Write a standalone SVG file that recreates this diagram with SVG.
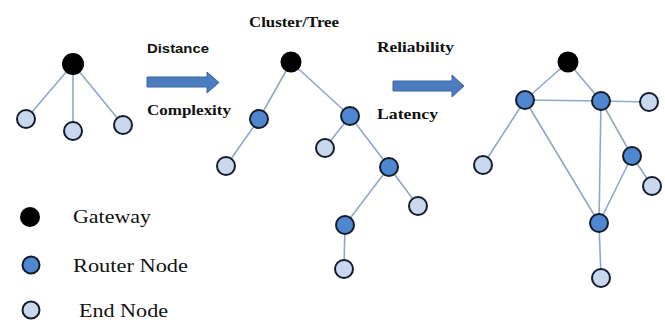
<svg xmlns="http://www.w3.org/2000/svg" width="665" height="323" viewBox="0 0 665 323">
  <style>
    .edge { stroke: #8fa8c8; stroke-width: 1.6; fill: none; }
    .gw { fill: #000; }
    .router { fill: #4f86d0; stroke: #141c2a; stroke-width: 2; }
    .end { fill: #c9d8ef; stroke: #141c2a; stroke-width: 2; }
    .arrow { fill: #4a7cbf; stroke: #3a66a0; stroke-width: 1; }
    .sans { font-family: "Liberation Sans", Arial, sans-serif; font-weight: bold; font-size: 13px; fill: #111; }
    .serifb { font-family: "Liberation Serif", "Times New Roman", serif; font-weight: bold; font-size: 14px; fill: #111; }
    .legend { font-family: "Liberation Serif", "Times New Roman", serif; font-size: 19px; fill: #111; }
  </style>

  <!-- connectors -->
  <g id="connectors">
    <!-- star -->
    <line class="edge" x1="73" y1="64" x2="26" y2="119"/>
    <line class="edge" x1="73" y1="64" x2="73" y2="131"/>
    <line class="edge" x1="73" y1="64" x2="123" y2="125"/>
    <!-- cluster tree -->
    <line class="edge" x1="291" y1="62" x2="259" y2="119"/>
    <line class="edge" x1="291" y1="62" x2="350" y2="116"/>
    <line class="edge" x1="259" y1="119" x2="226" y2="166"/>
    <line class="edge" x1="350" y1="116" x2="325" y2="148"/>
    <line class="edge" x1="350" y1="116" x2="389" y2="167"/>
    <line class="edge" x1="389" y1="167" x2="418" y2="206"/>
    <line class="edge" x1="389" y1="167" x2="345" y2="225"/>
    <line class="edge" x1="345" y1="225" x2="344" y2="269"/>
    <!-- mesh -->
    <line class="edge" x1="568" y1="62" x2="525" y2="100"/>
    <line class="edge" x1="568" y1="62" x2="601" y2="101"/>
    <line class="edge" x1="525" y1="100" x2="601" y2="101"/>
    <line class="edge" x1="601" y1="101" x2="649" y2="102"/>
    <line class="edge" x1="525" y1="100" x2="483" y2="165"/>
    <line class="edge" x1="525" y1="100" x2="599" y2="223"/>
    <line class="edge" x1="601" y1="101" x2="599" y2="223"/>
    <line class="edge" x1="601" y1="101" x2="632" y2="156"/>
    <line class="edge" x1="632" y1="156" x2="652" y2="186"/>
    <line class="edge" x1="632" y1="156" x2="599" y2="223"/>
    <line class="edge" x1="599" y1="223" x2="601" y2="278"/>
  </g>

  <!-- star topology -->
  <g id="star-gateway"><circle class="gw" cx="73" cy="64" r="11"/></g>
  <g id="star-end-1"><circle class="end" cx="26" cy="119" r="9"/></g>
  <g id="star-end-2"><circle class="end" cx="73" cy="131" r="9"/></g>
  <g id="star-end-3"><circle class="end" cx="123" cy="125" r="9"/></g>

  <!-- cluster tree topology -->
  <g id="tree-gateway"><circle class="gw" cx="291" cy="62" r="10.5"/></g>
  <g id="tree-router-1"><circle class="router" cx="259" cy="119" r="9"/></g>
  <g id="tree-end-1"><circle class="end" cx="226" cy="166" r="9"/></g>
  <g id="tree-router-2"><circle class="router" cx="350" cy="116" r="9"/></g>
  <g id="tree-end-2"><circle class="end" cx="325" cy="148" r="9"/></g>
  <g id="tree-router-3"><circle class="router" cx="389" cy="167" r="9"/></g>
  <g id="tree-end-3"><circle class="end" cx="418" cy="206" r="9"/></g>
  <g id="tree-router-4"><circle class="router" cx="345" cy="225" r="9"/></g>
  <g id="tree-end-4"><circle class="end" cx="344" cy="269" r="9"/></g>

  <!-- mesh topology -->
  <g id="mesh-gateway"><circle class="gw" cx="568" cy="62" r="10.5"/></g>
  <g id="mesh-router-1"><circle class="router" cx="525" cy="100" r="9"/></g>
  <g id="mesh-router-2"><circle class="router" cx="601" cy="101" r="9"/></g>
  <g id="mesh-end-1"><circle class="end" cx="649" cy="102" r="9"/></g>
  <g id="mesh-end-2"><circle class="end" cx="483" cy="165" r="9"/></g>
  <g id="mesh-router-3"><circle class="router" cx="632" cy="156" r="9"/></g>
  <g id="mesh-end-3"><circle class="end" cx="652" cy="186" r="9"/></g>
  <g id="mesh-router-4"><circle class="router" cx="599" cy="223" r="9"/></g>
  <g id="mesh-end-4"><circle class="end" cx="601" cy="278" r="9"/></g>

  <!-- transition arrows and labels -->
  <g id="arrow-1">
    <polygon class="arrow" points="147,77 207,77 207,72 219,82.5 207,93 207,87 147,87"/>
    <text class="sans" x="147" y="53" textLength="62" lengthAdjust="spacingAndGlyphs">Distance</text>
    <text class="serifb" x="147" y="115" textLength="84" lengthAdjust="spacingAndGlyphs">Complexity</text>
  </g>
  <g id="title-tree">
    <text class="serifb" x="249" y="27" textLength="90" lengthAdjust="spacingAndGlyphs">Cluster/Tree</text>
  </g>
  <g id="arrow-2">
    <polygon class="arrow" points="393,81 452,81 452,75 464,86 452,97 452,91 393,91"/>
    <text class="serifb" x="377" y="52" textLength="77" lengthAdjust="spacingAndGlyphs">Reliability</text>
    <text class="serifb" x="377" y="119" textLength="61" lengthAdjust="spacingAndGlyphs">Latency</text>
  </g>

  <!-- legend -->
  <g id="legend-gateway">
    <circle class="gw" cx="30" cy="217" r="10"/>
    <text class="legend" x="73" y="223" textLength="78" lengthAdjust="spacingAndGlyphs">Gateway</text>
  </g>
  <g id="legend-router">
    <circle class="router" cx="31" cy="265" r="8.5"/>
    <text class="legend" x="73" y="272" textLength="115" lengthAdjust="spacingAndGlyphs">Router Node</text>
  </g>
  <g id="legend-end">
    <circle class="end" cx="31" cy="310" r="8.5"/>
    <text class="legend" x="79" y="317" textLength="89" lengthAdjust="spacingAndGlyphs">End Node</text>
  </g>
</svg>
